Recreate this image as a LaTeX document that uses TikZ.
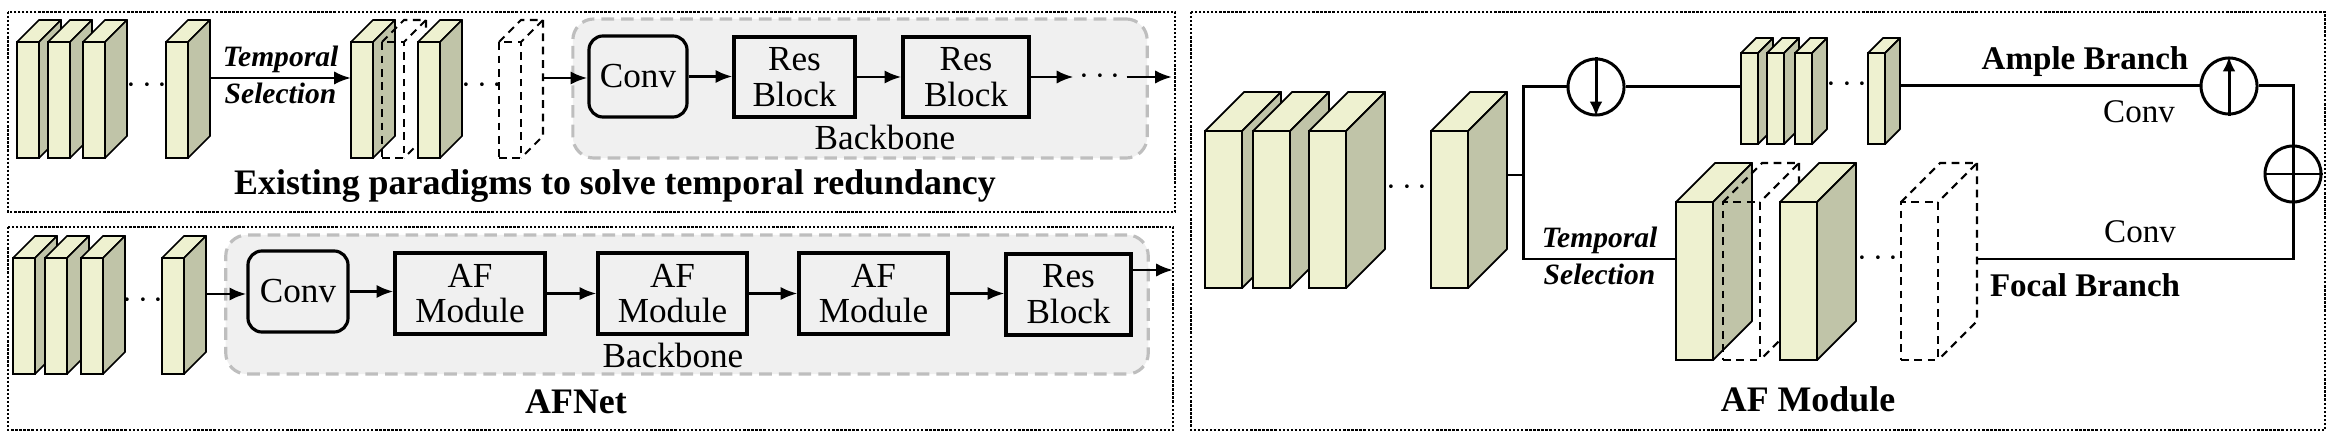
\documentclass[tikz,border=0pt]{standalone}
\usepackage{fontspec}
\setmainfont{Liberation Serif}
\usetikzlibrary{calc}
\usetikzlibrary{positioning}
\usetikzlibrary{arrows.meta}

\definecolor{featfront}{RGB}{238,241,208}
\definecolor{featside}{RGB}{192,196,168}
\definecolor{bbfill}{RGB}{240,240,240}
\definecolor{bbline}{RGB}{190,190,190}

% feature slab: name, x, y (top left of front face), width, height, depth
\newcommand{\featslab}[6]{%
  \node[slab, minimum width=#4*0.01cm, minimum height=#5*0.01cm] (#1) at (#2,#3) {};
  \filldraw[slab top] (#1.north west) -- ++(#6,-#6) -- ++(#4,0) -- (#1.north east) -- cycle;
  \filldraw[slab side] (#1.north east) -- ++(#6,-#6) -- ++(0,#5) -- (#1.south east) -- cycle;
  \coordinate (#1-b) at ($(#1.east)+(#6,-#6)$);
}
% dropped slab, outline only
\newcommand{\ghostslab}[6]{%
  \node[ghost, minimum width=#4*0.01cm, minimum height=#5*0.01cm] (#1) at (#2,#3) {};
  \draw[ghost edge] (#1.north west) -- ++(#6,-#6) -- ++(#4,0) -- (#1.north east);
  \draw[ghost edge] ($(#1.north east)+(#6,-#6)$) -- ++(0,#5) -- (#1.south east);
  \coordinate (#1-b) at ($(#1.east)+(#6,-#6)$);
}

\begin{document}
\begin{tikzpicture}[x=0.01cm, y=-0.01cm,
    slab/.style={draw, fill=featfront, line width=0.5pt, inner sep=0pt, outer sep=0pt, anchor=north west},
    slab top/.style={draw, fill=featfront, line width=0.5pt, line join=round},
    slab side/.style={draw, fill=featside, line width=0.5pt, line join=round},
    ghost/.style={draw, line width=0.6pt, dash pattern=on 2.2pt off 1.6pt, inner sep=0pt, outer sep=0pt, anchor=north west},
    ghost edge/.style={line width=0.6pt, dash pattern=on 2.2pt off 1.6pt},
    block/.style={draw, line width=0.9pt, fill=bbfill, align=center, inner sep=0pt, font=\fontsize{10}{10.2}\selectfont},
    backbone/.style={draw=bbline, fill=bbfill, line width=0.9pt, dash pattern=on 3.6pt off 2pt, rounded corners=6pt, inner sep=0pt},
    frame/.style={line width=0.65pt, dash pattern=on 0.65pt off 0.5pt},
    arr/.style={line width=0.8pt, -{Latex[length=4.8pt,width=3.8pt]}},
    wire/.style={line width=0.85pt},
    op/.style={circle, draw, line width=0.85pt, minimum size=0.56cm, inner sep=0pt},
    dots/.style={inner sep=1.5pt, font=\fontsize{10}{10}\selectfont},
    lbl/.style={anchor=base, inner sep=0pt, font=\fontsize{10}{10}\selectfont},
    ttl/.style={anchor=base, inner sep=0pt, font=\fontsize{10.2}{12}\selectfont\bfseries},
    sel/.style={anchor=base, inner sep=0pt, font=\fontsize{8.4}{9}\selectfont\bfseries\itshape}]
  \useasboundingbox (0,0) rectangle (2334,440);

  % frames
  \draw[frame] (8,12) rectangle (1175,212);
  \draw[frame] (8,227) rectangle (1173,430);
  \draw[frame] (1191,12) rectangle (2325,430);

  % existing paradigms
  \node[backbone, minimum width=5.74cm, minimum height=1.39cm] (bb1) at (860,88.5) {};
  \node[block, rounded corners=4pt, minimum width=0.98cm, minimum height=0.81cm] (conv1) at (638,76.5) {Conv};
  \node[block, minimum width=1.21cm, minimum height=0.80cm] (res1) at (794.5,77) {Res\\Block};
  \node[block, minimum width=1.26cm, minimum height=0.80cm] (res2) at (966,77) {Res\\Block};
  \node[lbl] (bbl1) at (885,150) {Backbone};

  \featslab{t1}{17}{42}{22}{116}{22}
  \featslab{t2}{48}{42}{22}{116}{22}
  \featslab{t3}{83}{42}{22}{116}{22}
  \node[dots] (tdl) at (147,86) {$\cdots$};
  \featslab{t4}{166}{42}{22}{116}{22}
  \featslab{t5}{351}{42}{22}{116}{22}
  \ghostslab{tg1}{382}{42}{22}{116}{22}
  \featslab{t6}{418}{42}{22}{116}{22}
  \node[dots] (tdm) at (482,86) {$\cdots$};
  \ghostslab{tg2}{499}{42}{22}{116}{22}

  \draw[arr] (t4-b) -- (t4-b -| t5.west)
    node[midway, above=1pt, sel, anchor=south] {Temporal}
    node[midway, below=1pt, sel, anchor=north] {Selection};
  \draw[arr] (tg2-b) -- (tg2-b -| conv1.west);
  \draw[arr] (conv1.east) -- (conv1.east -| res1.west);
  \draw[arr] (res1.east) -- (res1.east -| res2.west);
  \node[dots] (tdr) at (1100,77) {$\cdots$};
  \coordinate (out1) at (1172,77);
  \draw[arr] (res2.east) -- (tdr);
  \draw[arr] (tdr) -- (out1);
  \node[ttl] (ttl1) at (615,195) {Existing paradigms to solve temporal redundancy};

  % AFNet
  \node[backbone, minimum width=9.22cm, minimum height=1.39cm] (bb2) at (687,304.5) {};
  \node[block, rounded corners=4pt, minimum width=1.00cm, minimum height=0.81cm] (conv2) at (298,291.5) {Conv};
  \node[block, minimum width=1.50cm, minimum height=0.81cm] (af1) at (470,293.5) {AF\\Module};
  \node[block, minimum width=1.49cm, minimum height=0.81cm] (af2) at (672.5,293.5) {AF\\Module};
  \node[block, minimum width=1.49cm, minimum height=0.81cm] (af3) at (873.5,293.5) {AF\\Module};
  \node[block, minimum width=1.25cm, minimum height=0.81cm] (res3) at (1068.5,294.5) {Res\\Block};
  \node[lbl] (bbl2) at (673,367) {Backbone};

  \featslab{b1}{13}{258}{22}{116}{22}
  \featslab{b2}{45}{258}{22}{116}{22}
  \featslab{b3}{81}{258}{22}{116}{22}
  \node[dots] (bdl) at (143,301) {$\cdots$};
  \featslab{b4}{162}{258}{22}{116}{22}

  \draw[arr] (b4-b) -- (b4-b -| conv2.west);
  \draw[arr] (conv2.east) -- (conv2.east -| af1.west);
  \draw[arr] (af1.east) -- (af1.east -| af2.west);
  \draw[arr] (af2.east) -- (af2.east -| af3.west);
  \draw[arr] (af3.east) -- (af3.east -| res3.west);
  \coordinate (out2) at (1173,270);
  \draw[arr] (res3.east |- out2) -- (out2);
  \node[ttl] (ttl2) at (576,413) {AFNet};

  % AF module
  \featslab{r1}{1205}{131}{37}{157}{39}
  \featslab{r2}{1253}{131}{37}{157}{39}
  \featslab{r3}{1309}{131}{37}{157}{39}
  \node[dots] (rdl) at (1407,188) {$\cdots$};
  \featslab{r4}{1431}{131}{37}{157}{39}

  \featslab{a1}{1741}{53}{17}{91}{15}
  \featslab{a2}{1767}{53}{17}{91}{15}
  \featslab{a3}{1795}{53}{17}{91}{15}
  \node[dots] (adl) at (1847,85) {$\cdots$};
  \featslab{a4}{1868}{53}{17}{91}{15}

  \featslab{f1}{1676}{202}{37}{158}{39}
  \ghostslab{fg1}{1723}{202}{37}{158}{39}
  \featslab{f2}{1780}{202}{37}{158}{39}
  \node[dots] (fdl) at (1878,259) {$\cdots$};
  \ghostslab{fg2}{1901}{202}{37}{158}{39}

  \node[op] (dn) at (1596,87) {};
  \draw[line width=0.85pt, -{Latex[length=4.2pt,width=3.6pt]}] (dn.north) -- (dn.south);
  \node[op] (up) at (2229,86) {};
  \draw[line width=0.85pt, -{Latex[length=4.2pt,width=3.6pt]}] (up.south) -- (up.north);
  \node[op] (plus) at (2293,174) {};
  \draw[wire] (plus.north) -- (plus.south);
  \draw[wire] (plus.west) -- (plus.east);

  \coordinate (jn) at (1523,175);
  \coordinate (jbot) at (1523,259);
  \draw[wire] (r4-b |- jn) -- (jn);
  \draw[wire] (jn) |- (dn.west);
  \draw[wire] (dn.east) -- (dn.east -| a1.west);
  \draw[wire] (jn) -- (jbot) -- (jbot -| f1.west)
    node[midway, above=1pt, sel, anchor=south] {Temporal}
    node[midway, below=1pt, sel, anchor=north] {Selection};
  \draw[wire] (a4-b |- up.west) -- (up.west);
  \draw[wire] (up.east) -| (plus.north);
  \draw[wire] (plus.south) |- (fg2-b |- jbot);

  \node[ttl, font=\fontsize{9.4}{11}\selectfont\bfseries] (amp) at (2085,70) {Ample Branch};
  \node[lbl, font=\fontsize{9.4}{10}\selectfont] (cva) at (2139,123) {Conv};
  \node[lbl, font=\fontsize{9.4}{10}\selectfont] (cvf) at (2140,243) {Conv};
  \node[ttl, font=\fontsize{9.4}{11}\selectfont\bfseries] (foc) at (2085,297) {Focal Branch};
  \node[ttl] (ttl3) at (1808,412) {AF Module};
\end{tikzpicture}
\end{document}
